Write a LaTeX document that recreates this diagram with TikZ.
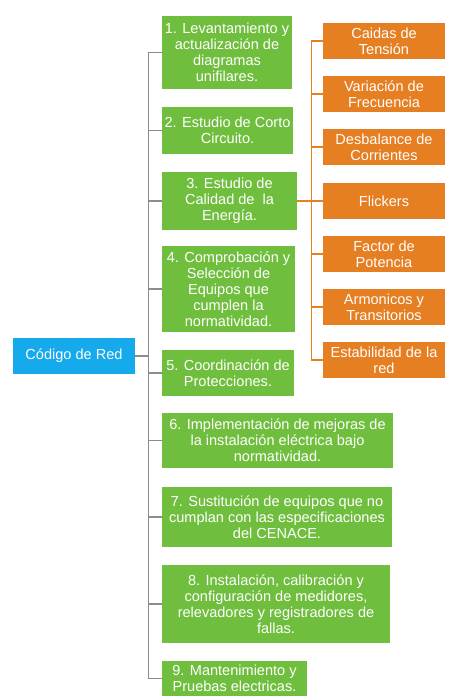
\documentclass[tikz,border=0pt]{standalone}
\usepackage{fontspec}
\setmainfont{Liberation Sans}
\usepackage{tikz}

\definecolor{verde}{RGB}{112,190,62}
\definecolor{naranja}{RGB}{230,126,34}
\definecolor{azul}{RGB}{20,170,235}
\definecolor{gris}{RGB}{140,140,140}

\tikzset{
  caja/.style={text=white, align=center, inner sep=0pt, font=\fontsize{14.6}{16}\selectfont},
  verdebox/.style={caja, fill=verde},
  naranjabox/.style={caja, fill=naranja, minimum width=122bp, minimum height=36bp},
  linea/.style={gris, line width=1.4pt},
  lineanar/.style={naranja, line width=1.2pt}
}

\begin{document}
\begin{tikzpicture}[x=1bp,y=-1bp]
\useasboundingbox (0,0) rectangle (449,700);
\node[caja, fill=azul, minimum width=122bp, minimum height=36bp] (red) at (74,356) {Código de Red};
\node[verdebox, minimum width=130bp, minimum height=73bp] (g1) at (227,52.5) {1. Levantamiento y\\actualización de\\diagramas\\unifilares.};
\node[verdebox, minimum width=131bp, minimum height=47bp] (g2) at (227.5,130.5) {2. Estudio de Corto\\Circuito.};
\node[verdebox, minimum width=135bp, minimum height=58bp] (g3) at (229.5,201) {3. Estudio de\\Calidad de\ \ la\\Energía.};
\node[verdebox, minimum width=133bp, minimum height=86bp] (g4) at (228.5,289) {4. Comprobación y\\Selección de\\Equipos que\\cumplen la\\normatividad.};
\node[verdebox, minimum width=132bp, minimum height=46bp] (g5) at (228,373) {5. Coordinación de\\Protecciones.};
\node[verdebox, minimum width=231bp, minimum height=55bp] (g6) at (277.5,440.5) {6. Implementación de mejoras de\\la instalación eléctrica bajo\\normatividad.};
\node[verdebox, minimum width=230bp, minimum height=60bp] (g7) at (277,517) {7. Sustitución de equipos que no\\cumplan con las especificaciones\\del CENACE.};
\node[verdebox, minimum width=228bp, minimum height=78bp] (g8) at (276,604) {8. Instalación, calibración y\\configuración de medidores,\\relevadores y registradores de\\fallas.};
\node[verdebox, minimum width=145bp, minimum height=35bp] (g9) at (234.5,678.5) {9. Mantenimiento y\\Pruebas electricas.};

\node[naranjabox] (o1) at (384,41) {Caidas de\\Tensión};
\node[naranjabox] (o2) at (384,94) {Variación de\\Frecuencia};
\node[naranjabox] (o3) at (384,147) {Desbalance de\\Corrientes};
\node[naranjabox] (o4) at (384,201) {Flickers};
\node[naranjabox] (o5) at (384,254) {Factor de\\Potencia};
\node[naranjabox] (o6) at (384,307) {Armonicos y\\Transitorios};
\node[naranjabox] (o7) at (384,360) {Estabilidad de la\\red};

% ramas verdes
\draw[linea] (red.east) -- ++(13,0) coordinate (hub);
\foreach \n in {g1,g2,g3,g4,g5,g6,g7,g8,g9}
  \draw[linea] (\n.west) -| (hub);
% ramas naranjas
\draw[lineanar] (g3.east) -- ++(14,0) coordinate (ohub);
\foreach \n in {o1,o2,o3,o4,o5,o6,o7}
  \draw[lineanar] (\n.west) -| (ohub);
\end{tikzpicture}
\end{document}
